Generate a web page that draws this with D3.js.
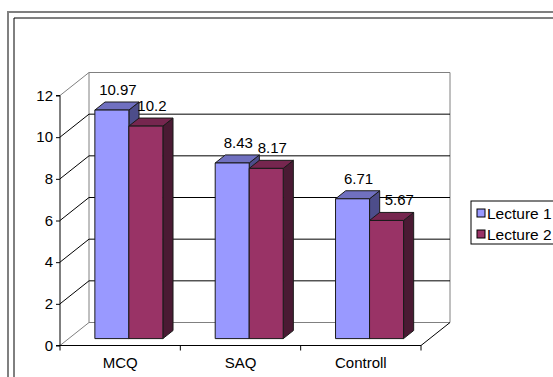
<!DOCTYPE html>
<html>
<head>
<meta charset="utf-8">
<script src="https://cdn.jsdelivr.net/npm/d3@7"></script>
<style>
  html, body { margin: 0; padding: 0; background: #fff; }
  svg { display: block; }
  text { font-family: "Liberation Sans", Arial, sans-serif; fill: #000; }
</style>
</head>
<body>
<svg id="chart" width="553" height="377"></svg>
<script>
// Scores per assessment type, two lecture groups
const categories = ["MCQ", "SAQ", "Controll"];
const seriesNames = ["Lecture 1", "Lecture 2"];
const lecture1 = [10.97, 8.43, 6.71];
const lecture2 = [10.2, 8.17, 5.67];
const yTicks = [0, 2, 4, 6, 8, 10, 12];

const series = [
  { name: seriesNames[0], values: lecture1, front: "#9999ff", top: "#7070c0", side: "#4d4d8a" },
  { name: seriesNames[1], values: lecture2, front: "#993366", top: "#76264f", side: "#4a1a33" }
];

const svg = d3.select("#chart");

// Outer frame (grey) and inner frame (dark)
svg.append("path").attr("d", "M8,377V12H553").attr("fill", "none")
  .attr("stroke", "#808080").attr("stroke-width", 2);
svg.append("path").attr("d", "M14,377V18H553").attr("fill", "none")
  .attr("stroke", "#000").attr("stroke-width", 1);

// Front plane of the plot
const x = d3.scaleBand().domain(categories).range([60, 421]).paddingInner(0).paddingOuter(0);
const y = d3.scaleLinear().domain([0, 12]).range([345.5, 95.5]);

// Wall depth offset and bar placement within that depth
const DX = 29, DY = -23;
const barFrontFrac = 0.3, barBackFrac = 0.65;
const barW = 34;
const groupPad = (x.bandwidth() - 2 * barW) / 2;

const g = svg.append("g");

// Back wall and floor outlines
const bx0 = x.range()[0] + DX, bx1 = x.range()[1] + DX;
g.append("path")
  .attr("d", `M${bx0},${y(0) + DY}V${y(12) + DY}H${bx1}V${y(0) + DY}`)
  .attr("fill", "none").attr("stroke", "#808080").attr("stroke-width", 1);
g.append("path")
  .attr("d", `M${x.range()[0]},${y(0)}L${bx0},${y(0) + DY}H${bx1}`)
  .attr("fill", "none").attr("stroke", "#808080");
g.append("line")
  .attr("x1", x.range()[1]).attr("y1", y(0))
  .attr("x2", bx1).attr("y2", y(0) + DY)
  .attr("stroke", "#000");

// Gridlines: diagonal from the axis back to the wall, then across the wall
yTicks.filter(t => t > 0).forEach(t => {
  const col = t === 12 ? "#808080" : "#000";
  g.append("line")
    .attr("x1", x.range()[0]).attr("y1", y(t))
    .attr("x2", bx0).attr("y2", y(t) + DY)
    .attr("stroke", col);
  if (t < 12) {
    g.append("line")
      .attr("x1", bx0).attr("y1", y(t) + DY)
      .attr("x2", bx1).attr("y2", y(t) + DY)
      .attr("stroke", "#000");
  }
});

// Y axis on the front plane
const yAxis = d3.axisLeft(y).tickValues(yTicks).tickSize(4).tickPadding(3).tickFormat(d3.format("d"));
const ya = svg.append("g").attr("transform", `translate(${x.range()[0]},0)`).call(yAxis);
ya.select(".domain").attr("stroke", "#000").attr("d", `M-4,${y(12)}H0V${y(0)}H-4`);
ya.selectAll(".tick line").attr("stroke", "#000");
ya.selectAll("text").style("font-size", "15px").attr("fill", "#000");

// X axis along the front edge of the floor
const xAxis = d3.axisBottom(x).tickSize(0).tickPadding(12);
const xa = svg.append("g").attr("transform", `translate(0,${y(0)})`).call(xAxis);
xa.select(".domain").attr("stroke", "#000").attr("d", `M${x.range()[0]},0H${x.range()[1]}`);
xa.selectAll("text").style("font-size", "15px").attr("fill", "#000");
// Category separators
const seps = categories.map(c => x(c) + x.bandwidth()).concat([x.range()[0]]);
xa.selectAll(".sep").data(seps).join("line")
  .attr("class", "sep")
  .attr("x1", d => d).attr("x2", d => d)
  .attr("y1", 0).attr("y2", 5)
  .attr("stroke", "#000");

// 3D bars
const fdx = DX * barFrontFrac, fdy = DY * barFrontFrac;
const ddx = DX * (barBackFrac - barFrontFrac), ddy = DY * (barBackFrac - barFrontFrac);

const bars = svg.append("g");
const labels = svg.append("g");

categories.forEach((cat, ci) => {
  let prev = null; // back edge of the bar to the left in this group
  series.forEach((s, si) => {
    const v = s.values[ci];
    const x0 = x(cat) + groupPad + si * barW + fdx;
    const x1 = x0 + barW;
    const yb = y(0) + fdy;
    const yt = y(v) + fdy;
    const bg = bars.append("g").attr("stroke", "#1a1a1a").attr("stroke-width", 1).attr("stroke-linejoin", "round");
    // side face
    bg.append("path")
      .attr("d", `M${x1},${yb}L${x1 + ddx},${yb + ddy}L${x1 + ddx},${yt + ddy}L${x1},${yt}Z`)
      .attr("fill", s.side);
    // top face
    bg.append("path")
      .attr("d", `M${x0},${yt}L${x0 + ddx},${yt + ddy}L${x1 + ddx},${yt + ddy}L${x1},${yt}Z`)
      .attr("fill", s.top);
    // front face
    bg.append("rect")
      .attr("x", x0).attr("y", yt).attr("width", barW).attr("height", yb - yt)
      .attr("fill", s.front);

    // Value label centred over the bar top, pushed right if it would sit on the neighbour bar
    const baseline = yt + ddy - 7;
    const t = labels.append("text")
      .attr("y", baseline)
      .style("font-size", "15px")
      .text(v);
    const w = t.node().getComputedTextLength();
    let left = x0 + barW / 2 + ddx / 2 + 1 - w / 2;
    if (prev && prev.top < baseline - 10 && left < prev.right + 5) left = prev.right + 5;
    t.attr("x", left);
    prev = { right: x1 + ddx, top: yt + ddy };
  });
});

// Legend
const lg = svg.append("g").attr("transform", "translate(471,201)");
lg.append("rect").attr("x", 0).attr("y", 0).attr("width", 100).attr("height", 43)
  .attr("fill", "#fff").attr("stroke", "#000");
series.forEach((s, i) => {
  const row = lg.append("g").attr("transform", `translate(0,${12 + i * 21})`);
  row.append("rect").attr("x", 6).attr("y", -4).attr("width", 8).attr("height", 8)
    .attr("fill", s.front).attr("stroke", "#000");
  row.append("text").attr("x", 16).attr("y", 5.5).style("font-size", "15.5px").text(s.name);
});
</script>
</body>
</html>
